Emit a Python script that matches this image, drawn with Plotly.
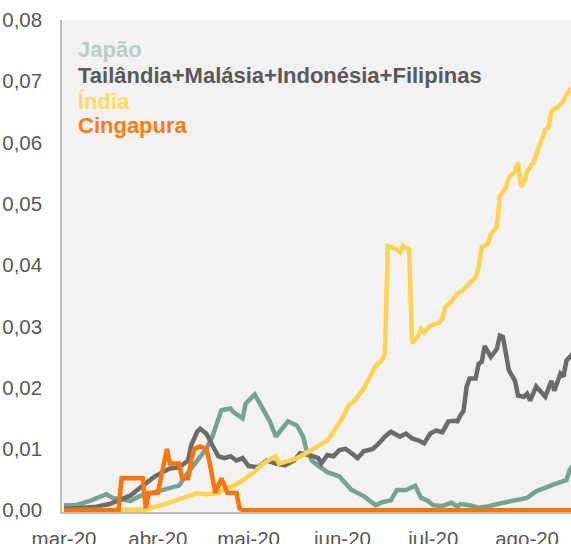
import plotly.graph_objects as go

# ---------------- data ----------------
japao_dates = ["2020-03-01", "2020-03-05", "2020-03-10", "2020-03-12", "2020-03-15", "2020-03-17",
               "2020-03-21", "2020-03-23", "2020-03-26", "2020-04-02", "2020-04-05", "2020-04-08",
               "2020-04-10", "2020-04-14", "2020-04-17", "2020-04-19", "2020-04-22", "2020-04-25",
               "2020-04-26", "2020-04-29", "2020-04-30", "2020-05-03", "2020-05-05", "2020-05-08",
               "2020-05-10", "2020-05-14", "2020-05-17", "2020-05-19", "2020-05-20", "2020-05-22",
               "2020-05-27", "2020-05-31", "2020-06-04", "2020-06-08", "2020-06-12", "2020-06-14",
               "2020-06-17", "2020-06-19", "2020-06-22", "2020-06-25", "2020-06-27", "2020-06-29",
               "2020-07-01", "2020-07-04", "2020-07-07", "2020-07-09", "2020-07-10", "2020-07-13",
               "2020-07-16", "2020-07-19", "2020-07-23", "2020-07-28", "2020-08-01", "2020-08-04",
               "2020-08-08", "2020-08-11", "2020-08-14", "2020-08-15", "2020-08-16"]
japao = [0.0008, 0.0008, 0.0016, 0.0020, 0.0026, 0.0020,
         0.0016, 0.0015, 0.0023, 0.0033, 0.0036, 0.0040,
         0.0055, 0.0080, 0.0100, 0.0120, 0.0163, 0.0166,
         0.0160, 0.0150, 0.0174, 0.0189, 0.0170, 0.0145,
         0.0120, 0.0145, 0.0138, 0.0120, 0.0100, 0.0080,
         0.0062, 0.0055, 0.0033, 0.0023, 0.0008, 0.0013,
         0.0016, 0.0033, 0.0033, 0.0040, 0.0020, 0.0016,
         0.0008, 0.0007, 0.0012, 0.0006, 0.0010, 0.0008,
         0.0004, 0.0006, 0.0011, 0.0016, 0.0020, 0.0031,
         0.0039, 0.0044, 0.0049, 0.0065, 0.0072]

tai_dates = ["2020-03-01", "2020-03-11", "2020-03-16", "2020-03-19", "2020-03-23", "2020-03-26",
             "2020-03-28", "2020-03-31", "2020-04-03", "2020-04-05", "2020-04-08", "2020-04-09",
             "2020-04-11", "2020-04-12", "2020-04-14", "2020-04-15", "2020-04-17", "2020-04-19",
             "2020-04-21", "2020-04-23", "2020-04-25", "2020-04-27", "2020-04-29", "2020-05-01",
             "2020-05-04", "2020-05-07", "2020-05-10", "2020-05-13", "2020-05-16", "2020-05-18",
             "2020-05-21", "2020-05-24", "2020-05-25", "2020-05-27", "2020-05-29", "2020-05-31",
             "2020-06-02", "2020-06-04", "2020-06-06", "2020-06-08", "2020-06-11", "2020-06-13",
             "2020-06-15", "2020-06-17", "2020-06-20", "2020-06-22", "2020-06-24", "2020-06-26",
             "2020-06-28", "2020-06-30", "2020-07-02", "2020-07-04", "2020-07-06", "2020-07-08",
             "2020-07-09", "2020-07-10", "2020-07-11", "2020-07-12", "2020-07-13", "2020-07-15",
             "2020-07-16", "2020-07-17", "2020-07-18", "2020-07-20", "2020-07-22", "2020-07-23",
             "2020-07-24", "2020-07-26", "2020-07-28", "2020-07-29", "2020-07-31", "2020-08-01",
             "2020-08-02", "2020-08-04", "2020-08-07", "2020-08-09", "2020-08-10", "2020-08-12",
             "2020-08-13", "2020-08-14", "2020-08-15", "2020-08-16"]
tailandia = [0.0002, 0.0005, 0.0010, 0.0016, 0.0024, 0.0036,
             0.0044, 0.0055, 0.0063, 0.0068, 0.0070, 0.0073,
             0.0081, 0.0106, 0.0128, 0.0133, 0.0125, 0.0106,
             0.0088, 0.0085, 0.0088, 0.0081, 0.0085, 0.0072,
             0.0070, 0.0081, 0.0076, 0.0073, 0.0081, 0.0093,
             0.0090, 0.0085, 0.0076, 0.0090, 0.0088, 0.0098,
             0.0100, 0.0093, 0.0085, 0.0096, 0.0100, 0.0109,
             0.0120, 0.0128, 0.0120, 0.0125, 0.0117, 0.0114,
             0.0109, 0.0125, 0.0130, 0.0127, 0.0145, 0.0146,
             0.0145, 0.0155, 0.0162, 0.0201, 0.0215, 0.0215,
             0.0239, 0.0242, 0.0268, 0.0250, 0.0263, 0.0285,
             0.0283, 0.0228, 0.0211, 0.0187, 0.0185, 0.0190,
             0.0179, 0.0202, 0.0185, 0.0211, 0.0195, 0.0223,
             0.0218, 0.0244, 0.0250, 0.0255]

india_dates = ["2020-03-01", "2020-03-28", "2020-04-02", "2020-04-06", "2020-04-11", "2020-04-14",
               "2020-04-17", "2020-04-21", "2020-04-24", "2020-04-27", "2020-04-30", "2020-05-03",
               "2020-05-05", "2020-05-07", "2020-05-10", "2020-05-11", "2020-05-14", "2020-05-17",
               "2020-05-20", "2020-05-24", "2020-05-27", "2020-05-29", "2020-05-31", "2020-06-01",
               "2020-06-03", "2020-06-05", "2020-06-08", "2020-06-11", "2020-06-12", "2020-06-14",
               "2020-06-15", "2020-06-16", "2020-06-18", "2020-06-20", "2020-06-21", "2020-06-22",
               "2020-06-23", "2020-06-24", "2020-06-26", "2020-06-27", "2020-06-28", "2020-06-30",
               "2020-07-03", "2020-07-04", "2020-07-05", "2020-07-07", "2020-07-09", "2020-07-11",
               "2020-07-13", "2020-07-15", "2020-07-16", "2020-07-17", "2020-07-19", "2020-07-20",
               "2020-07-22", "2020-07-23", "2020-07-25", "2020-07-26", "2020-07-28", "2020-07-29",
               "2020-07-30", "2020-07-31", "2020-08-01", "2020-08-03", "2020-08-04", "2020-08-05",
               "2020-08-07", "2020-08-08", "2020-08-09", "2020-08-10", "2020-08-11", "2020-08-13",
               "2020-08-14", "2020-08-15", "2020-08-16"]
india = [0.0000, 0.0001, 0.0008, 0.0015, 0.0023, 0.0028,
         0.0026, 0.0028, 0.0036, 0.0042, 0.0052, 0.0063,
         0.0073, 0.0080, 0.0088, 0.0076, 0.0080, 0.0085,
         0.0093, 0.0104, 0.0114, 0.0128, 0.0145, 0.0150,
         0.0171, 0.0179, 0.0198, 0.0226, 0.0236, 0.0244,
         0.0255, 0.0431, 0.0428, 0.0421, 0.0432, 0.0428,
         0.0426, 0.0272, 0.0285, 0.0296, 0.0290, 0.0301,
         0.0306, 0.0312, 0.0332, 0.0341, 0.0353, 0.0360,
         0.0370, 0.0380, 0.0397, 0.0429, 0.0434, 0.0450,
         0.0462, 0.0512, 0.0527, 0.0543, 0.0553, 0.0567,
         0.0528, 0.0535, 0.0553, 0.0567, 0.0580, 0.0593,
         0.0621, 0.0624, 0.0649, 0.0655, 0.0657, 0.0668,
         0.0678, 0.0686, 0.0690]

cing_dates = ["2020-03-01", "2020-03-19", "2020-03-20", "2020-03-27", "2020-03-28", "2020-03-29",
              "2020-04-01", "2020-04-03", "2020-04-04", "2020-04-05", "2020-04-08", "2020-04-09",
              "2020-04-11", "2020-04-12", "2020-04-13", "2020-04-15", "2020-04-17", "2020-04-18",
              "2020-04-19", "2020-04-20", "2020-04-22", "2020-04-24", "2020-04-27", "2020-04-28",
              "2020-04-29", "2020-08-16"]
cingapura = [0.0, 0.0, 0.0052, 0.0052, 0.0003, 0.0028,
             0.0028, 0.0072, 0.0100, 0.0076, 0.0076, 0.0052,
             0.0052, 0.0080, 0.0100, 0.0104, 0.0100, 0.0080,
             0.0052, 0.0028, 0.0052, 0.0028, 0.0028, 0.0003,
             0.0, 0.0]

tick_dates = ["2020-03-01", "2020-04-01", "2020-05-01", "2020-06-01", "2020-07-01", "2020-08-01"]
tick_labels = ["mar-20", "abr-20", "mai-20", "jun-20", "jul-20", "ago-20"]

series_names = ["Japão", "Tailândia+Malásia+Indonésia+Filipinas", "Índia", "Cingapura"]
line_colors = ["#74a394", "#6b6b6b", "#ffd24d", "#ff7300"]
label_colors = ["#b3cfc6", "#595959", "#ffd966", "#ff7a0a"]

# ---------------- figure ----------------
fig = go.Figure()
for name, xs, ys, col in zip(series_names,
                             [japao_dates, tai_dates, india_dates, cing_dates],
                             [japao, tailandia, india, cingapura],
                             line_colors):
    fig.add_trace(go.Scatter(x=xs, y=ys, mode="lines", name=name,
                             line=dict(color=col, width=4.5), showlegend=False))

label_y = [0.941, 0.888, 0.835, 0.786]
for name, col, yy in zip(series_names, label_colors, label_y):
    fig.add_annotation(text="<b>" + name + "</b>", x=0.0275, y=yy, xref="paper", yref="paper",
                       xanchor="left", yanchor="middle", showarrow=False,
                       font=dict(family="Liberation Sans, Arial", size=22, color=col))

fig.update_layout(
    width=571, height=544,
    margin=dict(l=62, r=0, t=20, b=32, autoexpand=False),
    paper_bgcolor="white", plot_bgcolor="#f2f2f2",
    separators=",.",
    font=dict(family="Liberation Sans, Arial", size=20.5, color="#595959"),
)
fig.update_xaxes(type="date", range=["2020-02-29 08:00", "2020-08-15 12:00"],
                 tickvals=tick_dates, ticktext=tick_labels, showgrid=False, zeroline=False,
                 showline=True, linecolor="#bfbfbf", linewidth=1.5, ticks="", automargin=False,
                 ticklabelstandoff=8, tickfont=dict(size=20.5, color="#595959"))
fig.update_yaxes(range=[-0.0003, 0.08], dtick=0.01, tickformat=".2f", showgrid=False,
                 zeroline=False, showline=True, linecolor="#bfbfbf", linewidth=1.5, ticks="",
                 automargin=False,
                 ticklabelstandoff=14, tickfont=dict(size=20.5, color="#595959"))

# remove the browser's default 8px body margin so the figure sits at the window origin
fig.write_html("out.html",
               config={"displayModeBar": False},
               post_script="document.body.style.margin='0px';document.body.style.overflow='hidden';")
